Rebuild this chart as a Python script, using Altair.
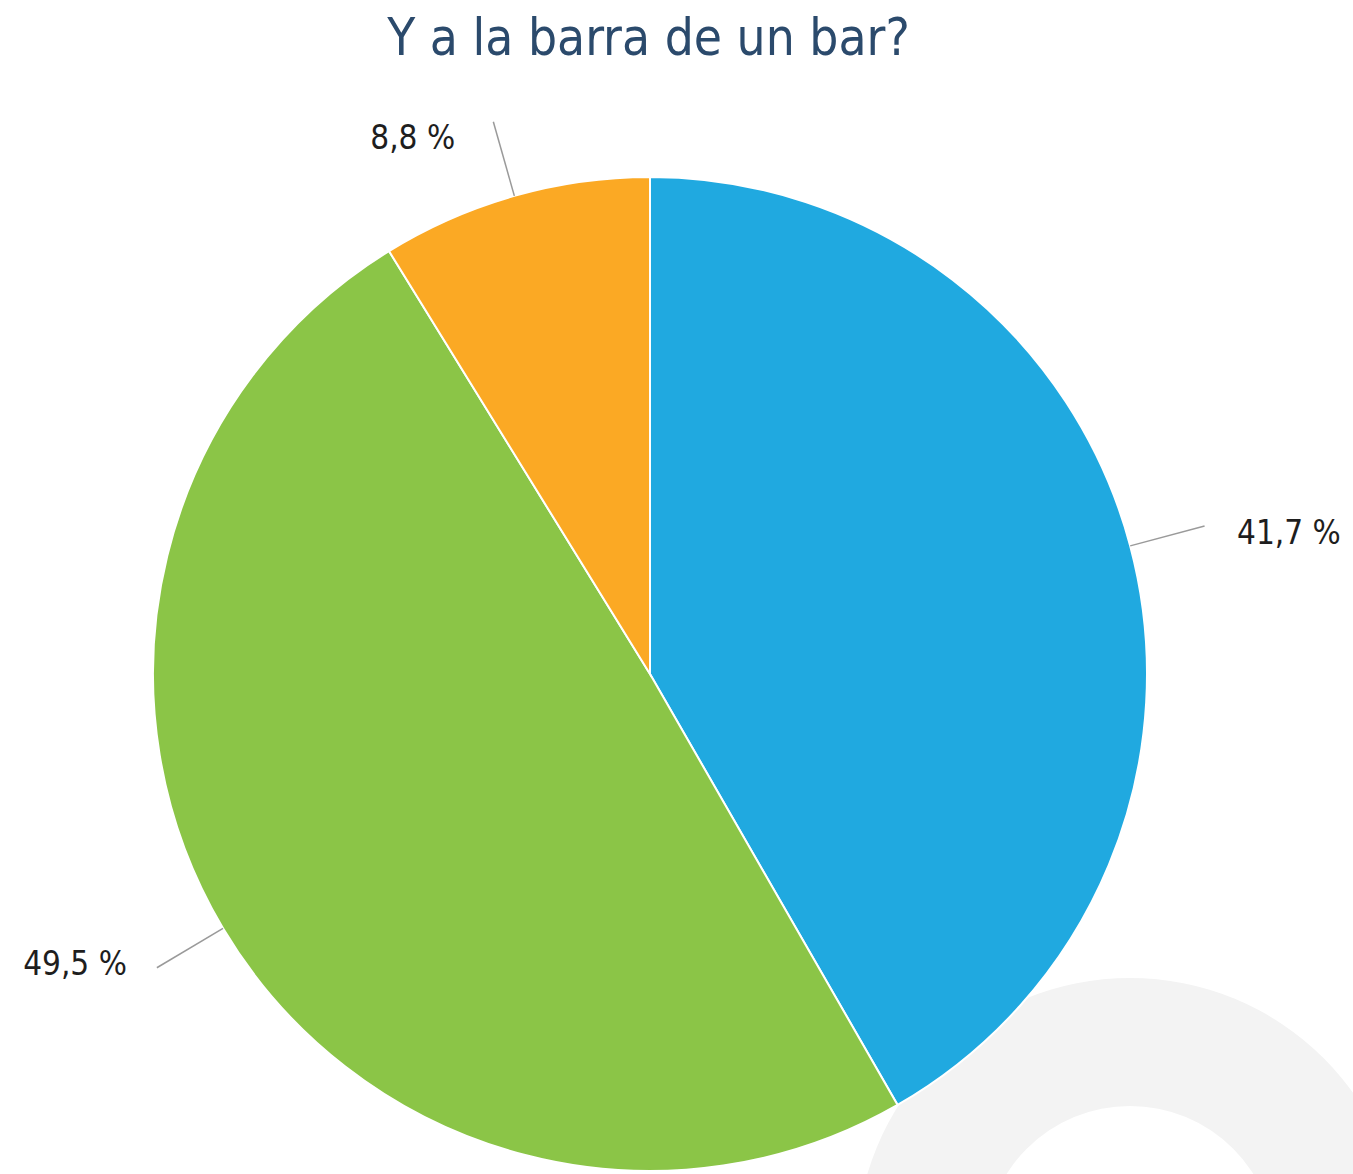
import altair as alt
import pandas as pd

categories = ["A", "B", "C"]
values = [41.7, 49.5, 8.8]
labels = ["41,7 %", "49,5 %", "8,8 %"]
colors = ["#20a9e0", "#8bc547", "#fba924"]
title_text = "Y a la barra de un bar?"

df = pd.DataFrame({"cat": categories, "value": values, "label": labels, "idx": list(range(len(values)))})
deco = pd.DataFrame({"v": [1]})

R = 497
R_OUT = 574
R_TXT = 560
FONT = "DejaVu Sans Condensed, DejaVu Sans"

xs = alt.Scale(domain=[-650, 703])
ys = alt.Scale(domain=[-500, 594])

base = alt.Chart(df)

ring = alt.Chart(deco).mark_arc(color="#f3f3f3", radius=274, radius2=146, theta=0, theta2=6.2832).encode(
    x=alt.X(datum=480, scale=xs, axis=None),
    y=alt.Y(datum=-578, scale=ys, axis=None),
)

pie = base.mark_arc(radius=R, stroke="white", strokeWidth=2).encode(
    theta=alt.Theta("value:Q", stack=True),
    color=alt.Color("cat:N", scale=alt.Scale(domain=categories, range=colors), legend=None),
    order=alt.Order("idx:Q"),
    x=alt.X(datum=0, scale=xs, axis=None),
    y=alt.Y(datum=0, scale=ys, axis=None),
)

geo = base.transform_window(
    cum="sum(value)", sort=[alt.SortField("idx")]
).transform_joinaggregate(
    total="sum(value)"
).transform_calculate(
    a="2*PI*(datum.cum - datum.value/2)/datum.total"
).transform_calculate(
    x1=f"{R}*sin(datum.a)", y1=f"{R}*cos(datum.a)",
    x2=f"{R_OUT}*sin(datum.a)", y2=f"{R_OUT}*cos(datum.a)",
    xt=f"{R_TXT}*sin(datum.a)", yt=f"{R_TXT}*cos(datum.a)",
)

rules = geo.mark_rule(color="#9a9a9a", strokeWidth=1.5).encode(
    x=alt.X("x1:Q", scale=xs, axis=None),
    y=alt.Y("y1:Q", scale=ys, axis=None),
    x2="x2:Q",
    y2="y2:Q",
)

right_text = geo.transform_filter("datum.xt > 0").mark_text(
    align="left", baseline="middle", dx=46, dy=4, font=FONT, fontSize=33, color="#1e1e1e"
).encode(
    x=alt.X("xt:Q", scale=xs, axis=None),
    y=alt.Y("yt:Q", scale=ys, axis=None),
    text="label:N",
)

left_text = geo.transform_filter("datum.xt <= 0").mark_text(
    align="right", baseline="middle", dx=-42, dy=4, font=FONT, fontSize=33, color="#1e1e1e"
).encode(
    x=alt.X("xt:Q", scale=xs, axis=None),
    y=alt.Y("yt:Q", scale=ys, axis=None),
    text="label:N",
)

chart = alt.layer(ring, pie, rules, right_text, left_text).properties(
    width=1353,
    height=1094,
    title=alt.TitleParams(
        title_text, fontSize=51, font=FONT, color="#2b4a6c", fontWeight="normal",
        anchor="middle", dx=-28, offset=14,
    ),
    autosize=alt.AutoSizeParams(type="none"),
    padding={"top": 80, "left": 0, "right": 0, "bottom": 0},
).configure(background="white").configure_view(stroke=None, strokeWidth=0)

chart.save("out.html", embed_options={"renderer": "svg", "actions": False})
